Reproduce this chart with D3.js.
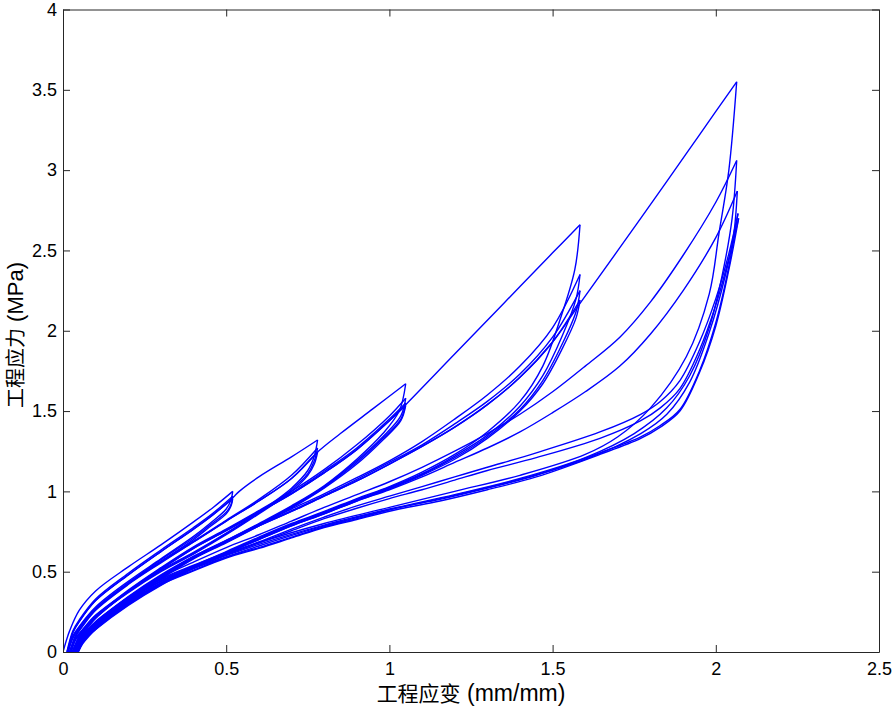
<!DOCTYPE html>
<html><head><meta charset="utf-8">
<script src="https://cdn.jsdelivr.net/npm/d3@7"></script>
<style>
html,body{margin:0;padding:0;background:#fff;}
svg text{font-family:"Liberation Sans",Arial,"Noto Sans CJK SC",sans-serif;}
</style></head>
<body><svg id="chart" width="894" height="706"></svg>
<script>
// ---- data: [strain (mm/mm), stress (MPa)], each curve ascending in strain ----
const xTicks = [0, 0.5, 1, 1.5, 2, 2.5];
const yTicks = [0, 0.5, 1, 1.5, 2, 2.5, 3, 3.5, 4];
const xLabelCJK = "工程应变", xLabelUnit = " (mm/mm)";
const yLabelCJK = "工程应力", yLabelUnit = " (MPa)";

const cycles052 = [
  [[0,0],[0.01,0.07],[0.02,0.13],[0.05,0.26],[0.1,0.38],[0.2,0.53],[0.3,0.667],[0.4,0.81],[0.46,0.9],[0.52,1.0]],
  [[0.012,0],[0.03,0.1],[0.05,0.16],[0.1,0.28],[0.2,0.44],[0.3,0.58],[0.4,0.72],[0.45,0.8],[0.5,0.89],[0.515,0.95],[0.52,1.0]],
  [[0.012,0],[0.03,0.13],[0.05,0.2],[0.1,0.33],[0.2,0.49],[0.3,0.635],[0.4,0.775],[0.46,0.865],[0.52,0.97]],
  [[0.014,0],[0.03,0.09],[0.05,0.155],[0.1,0.27],[0.2,0.43],[0.3,0.575],[0.4,0.71],[0.45,0.79],[0.5,0.87],[0.515,0.92],[0.52,0.97]],
  [[0.014,0],[0.03,0.12],[0.05,0.19],[0.1,0.32],[0.2,0.48],[0.3,0.625],[0.4,0.765],[0.46,0.855],[0.52,0.955]],
  [[0.016,0],[0.03,0.085],[0.05,0.15],[0.1,0.265],[0.2,0.425],[0.3,0.565],[0.4,0.7],[0.45,0.78],[0.5,0.86],[0.515,0.91],[0.52,0.955]]
];
const cycles078 = [
  [[0.016,0],[0.03,0.12],[0.05,0.19],[0.1,0.32],[0.2,0.48],[0.3,0.625],[0.4,0.765],[0.46,0.855],[0.52,0.96],[0.54,1.0],[0.6,1.09],[0.7,1.215],[0.78,1.32]],
  [[0.02,0],[0.04,0.09],[0.06,0.14],[0.1,0.23],[0.2,0.38],[0.3,0.51],[0.4,0.62],[0.5,0.74],[0.6,0.87],[0.7,1.02],[0.75,1.13],[0.77,1.22],[0.78,1.32]],
  [[0.02,0],[0.04,0.11],[0.06,0.17],[0.1,0.27],[0.2,0.43],[0.3,0.565],[0.4,0.69],[0.5,0.82],[0.6,0.95],[0.7,1.1],[0.78,1.27]],
  [[0.022,0],[0.04,0.085],[0.06,0.135],[0.1,0.225],[0.2,0.375],[0.3,0.505],[0.4,0.615],[0.5,0.735],[0.6,0.865],[0.7,1.01],[0.75,1.11],[0.77,1.19],[0.78,1.27]],
  [[0.022,0],[0.04,0.105],[0.06,0.165],[0.1,0.265],[0.2,0.425],[0.3,0.56],[0.4,0.685],[0.5,0.815],[0.6,0.94],[0.7,1.08],[0.78,1.245]],
  [[0.025,0],[0.04,0.08],[0.06,0.13],[0.1,0.22],[0.2,0.37],[0.3,0.5],[0.4,0.61],[0.5,0.73],[0.6,0.86],[0.7,1.0],[0.75,1.1],[0.77,1.17],[0.78,1.245]]
];
const cycles105 = [
  [[0.025,0],[0.04,0.1],[0.06,0.16],[0.1,0.26],[0.2,0.42],[0.3,0.555],[0.4,0.685],[0.5,0.815],[0.6,0.94],[0.7,1.08],[0.78,1.245],[0.85,1.36],[0.95,1.515],[1.05,1.67]],
  [[0.028,0],[0.05,0.08],[0.07,0.13],[0.1,0.19],[0.2,0.34],[0.3,0.47],[0.4,0.595],[0.5,0.695],[0.6,0.8],[0.7,0.91],[0.8,1.035],[0.9,1.2],[0.98,1.36],[1.03,1.5],[1.05,1.67]],
  [[0.028,0],[0.05,0.1],[0.07,0.15],[0.1,0.22],[0.2,0.385],[0.3,0.525],[0.4,0.655],[0.5,0.765],[0.6,0.88],[0.7,1.0],[0.8,1.135],[0.9,1.29],[1.0,1.47],[1.05,1.58]],
  [[0.03,0],[0.05,0.075],[0.07,0.125],[0.1,0.185],[0.2,0.335],[0.3,0.465],[0.4,0.59],[0.5,0.69],[0.6,0.795],[0.7,0.905],[0.8,1.03],[0.9,1.19],[0.98,1.34],[1.035,1.47],[1.05,1.58]],
  [[0.03,0],[0.05,0.095],[0.07,0.145],[0.1,0.215],[0.2,0.38],[0.3,0.52],[0.4,0.65],[0.5,0.76],[0.6,0.875],[0.7,0.99],[0.8,1.125],[0.9,1.27],[1.0,1.45],[1.05,1.55]],
  [[0.032,0],[0.05,0.07],[0.07,0.12],[0.1,0.18],[0.2,0.33],[0.3,0.46],[0.4,0.585],[0.5,0.685],[0.6,0.79],[0.7,0.9],[0.8,1.025],[0.9,1.18],[0.98,1.33],[1.035,1.45],[1.05,1.55]],
  [[0.032,0],[0.05,0.09],[0.07,0.14],[0.1,0.21],[0.2,0.375],[0.3,0.515],[0.4,0.645],[0.5,0.755],[0.6,0.87],[0.7,0.985],[0.8,1.115],[0.9,1.26],[1.0,1.44],[1.05,1.535]],
  [[0.034,0],[0.05,0.065],[0.07,0.115],[0.1,0.175],[0.2,0.325],[0.3,0.455],[0.4,0.58],[0.5,0.68],[0.6,0.785],[0.7,0.895],[0.8,1.02],[0.9,1.17],[0.98,1.32],[1.035,1.44],[1.05,1.535]]
];
const cycles158 = [
  [[0.032,0],[0.05,0.09],[0.07,0.14],[0.1,0.21],[0.2,0.375],[0.3,0.515],[0.4,0.645],[0.5,0.755],[0.6,0.87],[0.7,0.985],[0.8,1.115],[0.9,1.26],[1.0,1.44],[1.05,1.54],[1.2,1.855],[1.35,2.17],[1.5,2.485],[1.584,2.66]],
  [[0.035,0],[0.05,0.06],[0.07,0.1],[0.1,0.155],[0.2,0.305],[0.3,0.43],[0.4,0.535],[0.5,0.625],[0.6,0.715],[0.7,0.8],[0.8,0.875],[0.9,0.955],[1.0,1.03],[1.1,1.12],[1.2,1.23],[1.3,1.37],[1.4,1.56],[1.47,1.78],[1.523,2.07],[1.568,2.38],[1.584,2.66]],
  [[0.035,0],[0.05,0.08],[0.07,0.125],[0.1,0.185],[0.2,0.345],[0.3,0.48],[0.4,0.595],[0.5,0.695],[0.6,0.795],[0.7,0.89],[0.8,0.985],[0.9,1.085],[1.0,1.19],[1.1,1.31],[1.2,1.45],[1.3,1.6],[1.4,1.78],[1.5,2.02],[1.584,2.35]],
  [[0.037,0],[0.05,0.055],[0.07,0.095],[0.1,0.15],[0.2,0.3],[0.3,0.425],[0.4,0.53],[0.5,0.62],[0.6,0.71],[0.7,0.795],[0.8,0.87],[0.9,0.95],[1.0,1.025],[1.1,1.11],[1.2,1.22],[1.3,1.35],[1.4,1.53],[1.47,1.72],[1.53,1.97],[1.572,2.2],[1.584,2.35]],
  [[0.037,0],[0.05,0.075],[0.07,0.12],[0.1,0.18],[0.2,0.34],[0.3,0.475],[0.4,0.59],[0.5,0.69],[0.6,0.79],[0.7,0.88],[0.8,0.975],[0.9,1.075],[1.0,1.18],[1.1,1.29],[1.2,1.42],[1.3,1.56],[1.4,1.73],[1.5,1.96],[1.584,2.25]],
  [[0.039,0],[0.05,0.05],[0.07,0.09],[0.1,0.145],[0.2,0.295],[0.3,0.42],[0.4,0.525],[0.5,0.615],[0.6,0.705],[0.7,0.79],[0.8,0.865],[0.9,0.945],[1.0,1.02],[1.1,1.105],[1.2,1.21],[1.3,1.34],[1.4,1.51],[1.47,1.69],[1.53,1.92],[1.572,2.12],[1.584,2.25]],
  [[0.039,0],[0.05,0.07],[0.07,0.115],[0.1,0.175],[0.2,0.335],[0.3,0.47],[0.4,0.585],[0.5,0.685],[0.6,0.785],[0.7,0.875],[0.8,0.97],[0.9,1.065],[1.0,1.17],[1.1,1.28],[1.2,1.4],[1.3,1.54],[1.4,1.71],[1.5,1.93],[1.584,2.19]],
  [[0.041,0],[0.055,0.055],[0.07,0.085],[0.1,0.14],[0.2,0.29],[0.3,0.415],[0.4,0.52],[0.5,0.61],[0.6,0.7],[0.7,0.785],[0.8,0.86],[0.9,0.94],[1.0,1.015],[1.1,1.1],[1.2,1.2],[1.3,1.33],[1.4,1.5],[1.47,1.67],[1.53,1.89],[1.572,2.08],[1.584,2.19]]
];
const cycles207 = [
  [[0.039,0],[0.05,0.07],[0.07,0.115],[0.1,0.175],[0.2,0.335],[0.3,0.47],[0.4,0.585],[0.5,0.685],[0.6,0.785],[0.7,0.875],[0.8,0.97],[0.9,1.065],[1.0,1.17],[1.1,1.28],[1.2,1.4],[1.3,1.54],[1.4,1.71],[1.5,1.93],[1.584,2.17],[1.7,2.5],[1.85,2.93],[1.95,3.22],[2.064,3.55]],
  [[0.042,0],[0.06,0.07],[0.08,0.12],[0.1,0.16],[0.2,0.33],[0.3,0.45],[0.4,0.535],[0.6,0.68],[0.8,0.8],[1.0,0.9],[1.2,1.0],[1.4,1.1],[1.6,1.23],[1.7,1.34],[1.8,1.52],[1.91,1.84],[1.98,2.23],[2.01,2.61],[2.04,3.0],[2.064,3.55]],
  [[0.042,0],[0.06,0.085],[0.08,0.135],[0.1,0.175],[0.2,0.34],[0.3,0.465],[0.4,0.56],[0.5,0.65],[0.6,0.73],[0.7,0.815],[0.8,0.9],[0.9,0.98],[1.0,1.06],[1.1,1.15],[1.2,1.25],[1.3,1.36],[1.4,1.48],[1.5,1.62],[1.6,1.78],[1.706,1.96],[1.8,2.18],[1.9,2.47],[2.0,2.8],[2.064,3.06]],
  [[0.043,0],[0.06,0.065],[0.08,0.115],[0.1,0.155],[0.2,0.32],[0.3,0.44],[0.4,0.525],[0.6,0.67],[0.8,0.79],[1.0,0.89],[1.2,0.98],[1.4,1.08],[1.6,1.21],[1.75,1.36],[1.85,1.52],[1.92,1.72],[1.98,2.02],[2.02,2.35],[2.05,2.7],[2.064,3.06]],
  [[0.043,0],[0.06,0.08],[0.08,0.13],[0.1,0.17],[0.2,0.33],[0.3,0.455],[0.4,0.54],[0.5,0.62],[0.6,0.7],[0.7,0.785],[0.8,0.86],[0.9,0.94],[1.0,1.01],[1.1,1.09],[1.2,1.18],[1.3,1.27],[1.4,1.37],[1.5,1.49],[1.6,1.62],[1.706,1.78],[1.8,1.98],[1.9,2.25],[2.0,2.58],[2.066,2.87]],
  [[0.045,0],[0.06,0.06],[0.08,0.11],[0.1,0.15],[0.2,0.315],[0.3,0.43],[0.4,0.52],[0.6,0.66],[0.8,0.785],[1.0,0.885],[1.2,0.975],[1.4,1.075],[1.6,1.2],[1.77,1.36],[1.85,1.48],[1.92,1.68],[1.98,1.99],[2.03,2.35],[2.055,2.6],[2.066,2.87]],
  [[0.045,0],[0.06,0.075],[0.08,0.125],[0.1,0.165],[0.2,0.325],[0.3,0.445],[0.4,0.53],[0.5,0.61],[0.6,0.685],[0.7,0.765],[0.8,0.84],[0.9,0.91],[1.0,0.97],[1.1,1.03],[1.2,1.09],[1.3,1.15],[1.45,1.24],[1.645,1.37],[1.77,1.48],[1.83,1.56],[1.89,1.69],[1.95,1.93],[2.0,2.2],[2.04,2.48],[2.068,2.73]],
  [[0.046,0],[0.06,0.055],[0.08,0.105],[0.1,0.145],[0.2,0.31],[0.3,0.425],[0.4,0.51],[0.5,0.59],[0.6,0.65],[0.7,0.715],[0.8,0.78],[0.9,0.83],[1.03,0.9],[1.155,0.95],[1.3,1.02],[1.45,1.1],[1.645,1.24],[1.77,1.34],[1.83,1.41],[1.89,1.51],[1.95,1.75],[2.0,2.05],[2.04,2.4],[2.068,2.73]],
  [[0.046,0],[0.06,0.07],[0.08,0.12],[0.1,0.16],[0.2,0.32],[0.3,0.44],[0.4,0.525],[0.5,0.605],[0.6,0.68],[0.7,0.755],[0.8,0.83],[0.9,0.895],[1.0,0.955],[1.1,1.01],[1.2,1.07],[1.3,1.13],[1.45,1.21],[1.645,1.33],[1.77,1.44],[1.83,1.52],[1.89,1.64],[1.95,1.88],[2.0,2.16],[2.04,2.45],[2.07,2.70]],
  [[0.047,0],[0.06,0.05],[0.08,0.1],[0.1,0.14],[0.2,0.305],[0.3,0.42],[0.4,0.505],[0.5,0.585],[0.6,0.645],[0.7,0.71],[0.8,0.775],[0.9,0.825],[1.03,0.89],[1.155,0.94],[1.3,1.01],[1.45,1.09],[1.645,1.23],[1.77,1.33],[1.83,1.4],[1.89,1.5],[1.95,1.74],[2.0,2.03],[2.04,2.38],[2.07,2.70]]
];

// ---- drawing ----
const svg = d3.select("#chart");
const L = 63, R = 879, T = 9.5, B = 652;
const x = d3.scaleLinear().domain([0, 2.5]).range([L, R]);
const y = d3.scaleLinear().domain([0, 4]).range([B, T]);
const fmt = d => String(d);

svg.append("defs").append("clipPath").attr("id","clip")
  .append("rect").attr("x",L).attr("y",T).attr("width",R-L).attr("height",B-T);

const line = d3.line().x(d => x(d[0])).y(d => y(d[1])).curve(d3.curveCatmullRom.alpha(0.5));
const allCurves = [].concat(cycles052, cycles078, cycles105, cycles158, cycles207);
svg.append("g").attr("clip-path","url(#clip)")
  .selectAll("path").data(allCurves).join("path")
  .attr("d", line).attr("fill","none").attr("stroke","#0000ff")
  .attr("stroke-width",1.4).attr("stroke-linejoin","round");

// axes (MATLAB style box, inward ticks)
const axColor = "#262626";
function styleAxis(g){
  g.select(".domain").attr("stroke", axColor).attr("stroke-width",1);
  g.selectAll(".tick line").attr("stroke", axColor);
  g.selectAll(".tick text").attr("fill","#000").attr("font-size","18px");
}
svg.append("g").attr("transform",`translate(0,${B})`)
  .call(d3.axisBottom(x).tickValues(xTicks).tickFormat(fmt).tickSizeInner(-7).tickSizeOuter(0).tickPadding(10))
  .call(styleAxis).call(g=>g.selectAll(".tick text").attr("dy","0.71em"));
svg.append("g").attr("transform",`translate(0,${T})`)
  .call(d3.axisTop(x).tickValues(xTicks).tickFormat("").tickSizeInner(-7).tickSizeOuter(0))
  .call(styleAxis);
svg.append("g").attr("transform",`translate(${L},0)`)
  .call(d3.axisLeft(y).tickValues(yTicks).tickFormat(fmt).tickSizeInner(-7).tickSizeOuter(0).tickPadding(6))
  .call(styleAxis);
svg.append("g").attr("transform",`translate(${R},0)`)
  .call(d3.axisRight(y).tickValues(yTicks).tickFormat("").tickSizeInner(-7).tickSizeOuter(0))
  .call(styleAxis);

const xl = svg.append("text").attr("x",(L+R)/2).attr("y",701).attr("text-anchor","middle").attr("fill","#000");
xl.append("tspan").attr("font-size","21px").text(xLabelCJK);
xl.append("tspan").attr("font-size","23px").text(xLabelUnit);
const yl = svg.append("text").attr("transform",`translate(23,335) rotate(-90)`).attr("text-anchor","middle").attr("fill","#000");
yl.append("tspan").attr("font-size","20px").text(yLabelCJK);
yl.append("tspan").attr("font-size","22px").text(yLabelUnit);
</script></body></html>
